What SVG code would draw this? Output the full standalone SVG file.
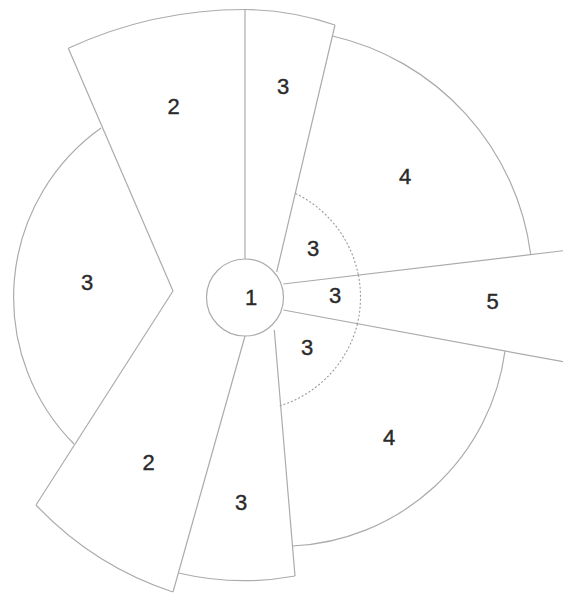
<svg xmlns="http://www.w3.org/2000/svg" width="563" height="594" viewBox="0 0 563 594">
<style>
.ln{fill:none;stroke:#ababab;stroke-width:1.2}
.dot{fill:none;stroke:#9a9a9a;stroke-width:1.1;stroke-dasharray:2 2}
.lb{font-family:"Liberation Sans",Arial,sans-serif;font-size:22px;fill:#2a2a2a;stroke:#2a2a2a;stroke-width:0.4;text-anchor:middle}
</style>
<rect width="563" height="594" fill="#fff"/>
<g id="edges" class="ln">
<line x1="245" y1="9.5" x2="245" y2="259"/>
<line x1="335" y1="25" x2="276.7" y2="272"/>
<line x1="283.3" y1="284" x2="570" y2="249.9"/>
<line x1="283.3" y1="310" x2="570" y2="363"/>
<line x1="274.3" y1="330" x2="295" y2="576"/>
<line x1="245" y1="336" x2="173" y2="592"/>
<line x1="36" y1="505" x2="173" y2="291"/>
<line x1="68.3" y1="48.3" x2="173" y2="291"/>
</g>
<g id="w1">
<circle cx="245" cy="297.5" r="38.5" fill="#fff" class="ln"/>
<text class="lb" x="251" y="305">1</text>
</g>
<g id="w2-top">
<path class="ln" d="M68.3 48.3 A420 420 0 0 1 245 9.5"/>
<text class="lb" x="173.5" y="114">2</text>
</g>
<g id="w3-top">
<path class="ln" d="M245 9.5 A288 288 0 0 1 335 25"/>
<text class="lb" x="283" y="94">3</text>
</g>
<g id="w4-top">
<path class="ln" d="M332.4 36 A258 258 0 0 1 530.7 254.5"/>
<text class="lb" x="405" y="184">4</text>
</g>
<g id="w3-inner-top">
<path class="dot" d="M295.5 193.5 A115.5 115.5 0 0 1 358.3 274.9"/>
<text class="lb" x="313" y="256">3</text>
</g>
<g id="w3-inner-mid">
<path class="dot" d="M358.3 274.9 A115.5 115.5 0 0 1 357.4 323.9"/>
<text class="lb" x="335" y="303">3</text>
</g>
<g id="w3-inner-bot">
<path class="dot" d="M357.4 323.9 A115.5 115.5 0 0 1 279.5 406"/>
<text class="lb" x="307" y="355">3</text>
</g>
<g id="w5">
<text class="lb" x="492.5" y="309">5</text>
</g>
<g id="w4-bot">
<path class="ln" d="M505 351 A225 225 0 0 1 292.5 546"/>
<text class="lb" x="389" y="445">4</text>
</g>
<g id="w3-bot">
<path class="ln" d="M295 576 A283 283 0 0 1 178.5 573"/>
<text class="lb" x="241" y="510">3</text>
</g>
<g id="w2-bot">
<path class="ln" d="M173 592 A330 330 0 0 1 36 505"/>
<text class="lb" x="148.5" y="470">2</text>
</g>
<g id="w3-left">
<path class="ln" d="M74 444 A208 208 0 0 1 101 128"/>
<text class="lb" x="87" y="290">3</text>
</g>
</svg>
